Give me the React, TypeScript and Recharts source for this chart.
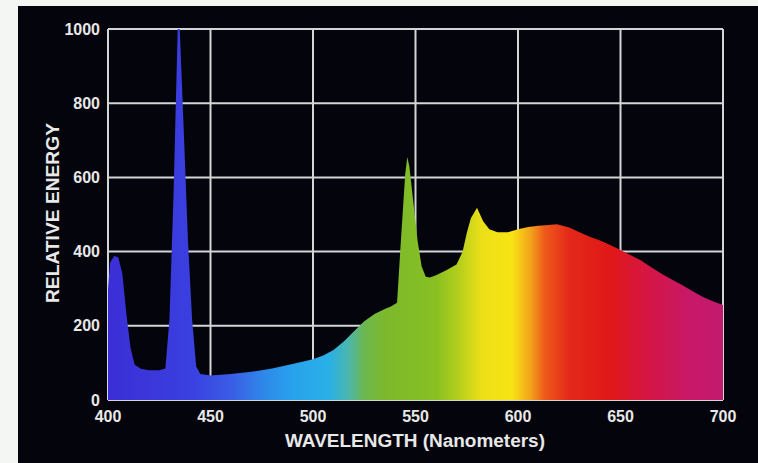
import React from "react";
import { ComposedChart, Area, XAxis, YAxis, CartesianGrid } from "recharts";

const wavelengths = [400,401,403,405,407,409,411,413,416,420,425,428,430,432,434,435,437,439,441,443,445,450,460,470,480,490,500,505,510,515,520,525,530,535,538,541,543,545,546,547,549,551,553,555,557,560,565,570,573,575,577,580,583,586,590,595,600,605,610,615,619,625,630,635,640,645,650,655,660,665,670,675,680,685,690,695,700];
const energy = [300,370,388,385,340,230,140,95,84,80,80,85,220,560,1000,1000,720,430,220,90,70,66,70,76,85,97,110,120,135,158,185,212,232,245,252,262,440,610,655,630,530,430,360,332,330,336,350,365,400,450,490,518,482,460,452,452,460,466,470,472,474,465,452,440,430,418,404,390,376,358,340,325,310,294,278,266,256];
const xTicks = [400,450,500,550,600,650,700];
const yTicks = [0,200,400,600,800,1000];

const stopWavelengths = [400,440,460,475,490,508,517,525,535,560,572,582,597,606,613,625,645,665,685,700];
const stopColors = ["#3b2ed6","#3a3fe0","#3a5ce6","#2f86e8","#27a2ec","#2ab0e6","#4ab6b0","#6cb850","#7cb82c","#88c022","#b8d01c","#ecdf18","#f8e414","#f4a41c","#ee5a1a","#e4281a","#e01818","#d41648","#c8186a","#c21a6e"];

const data = wavelengths.map((w, i) => ({ w, e: energy[i] }));

const FONT = "'Liberation Sans', Arial, sans-serif";
const TXT = "#e8e8e8";

const XTick = (props: any) => {
  const { x, y, payload } = props;
  return (
    <text x={x} y={y + 16} textAnchor="middle" dominantBaseline="central" fill={TXT} fontFamily={FONT} fontWeight="bold" fontSize={16}>
      {payload.value}
    </text>
  );
};

const YTick = (props: any) => {
  const { x, y, payload } = props;
  return (
    <text x={x} y={y} textAnchor="end" dominantBaseline="central" fill={TXT} fontFamily={FONT} fontWeight="bold" fontSize={16}>
      {payload.value}
    </text>
  );
};

export default function App() {
  return (
    <div style={{ position: "fixed", left: 0, top: 0, width: 758, height: 463, background: "#f4f6f4" }}>
      <div style={{ position: "absolute", left: 18, top: 6, width: 740, height: 457, background: "#04050c" }}>
        <ComposedChart width={740} height={457} data={data} margin={{ top: 23, right: 35, left: 0, bottom: 0 }}>
          <defs>
            <linearGradient id="spec" x1="0" y1="0" x2="1" y2="0">
              {stopWavelengths.map((w, i) => (
                <stop key={i} offset={(w - 400) / 300} stopColor={stopColors[i]} />
              ))}
            </linearGradient>
          </defs>
          <CartesianGrid stroke="#d2d6d6" strokeWidth={2} ticks={undefined} />
          <XAxis
            dataKey="w"
            type="number"
            domain={[400, 700]}
            ticks={xTicks}
            height={63}
            axisLine={false}
            tickLine={false}
            tickSize={0}
            tickMargin={0}
            tick={<XTick />}
            interval={0}
            label={() => (
              <text x={397} y={435} textAnchor="middle" dominantBaseline="central" fill={TXT} fontFamily={FONT} fontWeight="bold" fontSize={18} textLength={260} lengthAdjust="spacingAndGlyphs">
                WAVELENGTH (Nanometers)
              </text>
            )}
          />
          <YAxis
            type="number"
            domain={[0, 1000]}
            ticks={yTicks}
            width={90}
            axisLine={false}
            tickLine={false}
            tickSize={0}
            tickMargin={8}
            tick={<YTick />}
            interval={0}
            allowDataOverflow
            label={() => (
              <text x={35} y={207} transform="rotate(-90 35 207)" textAnchor="middle" dominantBaseline="central" fill={TXT} fontFamily={FONT} fontWeight="bold" fontSize={18} textLength={180} lengthAdjust="spacingAndGlyphs">
                RELATIVE ENERGY
              </text>
            )}
          />
          <Area
            type="linear"
            dataKey="e"
            stroke="none"
            fill="url(#spec)"
            fillOpacity={1}
            isAnimationActive={false}
            baseValue={0}
          />
        </ComposedChart>
      </div>
    </div>
  );
}
